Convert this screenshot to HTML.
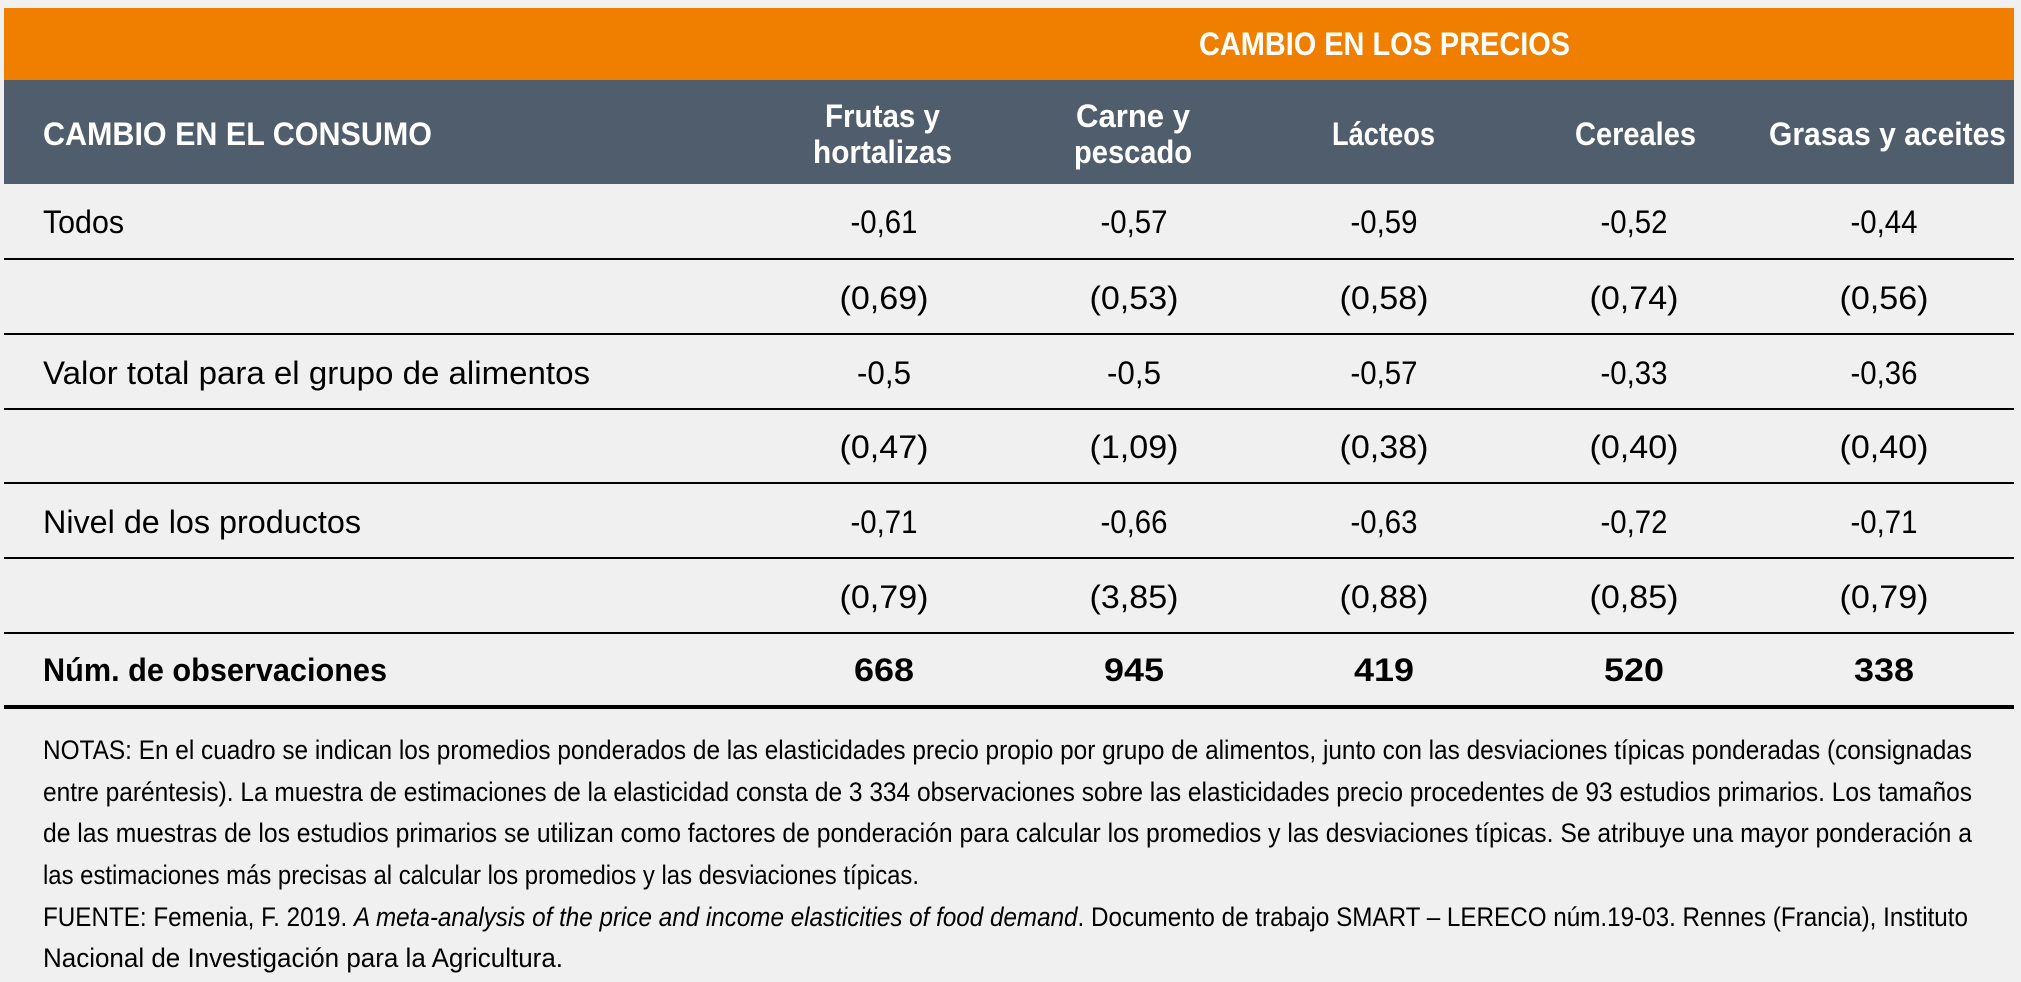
<!DOCTYPE html>
<html><head><meta charset="utf-8"><style>
html,body{margin:0;padding:0;background:#f0f0f0;}
svg{display:block;}
text{font-family:"Liberation Sans",sans-serif;dominant-baseline:central;}
</style></head><body>
<svg width="2021" height="982" viewBox="0 0 2021 982" xmlns="http://www.w3.org/2000/svg">
<rect x="0" y="0" width="2021" height="982" fill="#f0f0f0"/>
<rect x="4" y="8" width="2010" height="72" fill="#f07f00"/>
<rect x="4" y="80" width="2010" height="104" fill="#505d6c"/>
<g fill="#fff" font-weight="bold" font-size="32" lengthAdjust="spacingAndGlyphs">
<text x="1199" y="44" textLength="371" lengthAdjust="spacingAndGlyphs">CAMBIO EN LOS PRECIOS</text>
<text x="43" y="134" textLength="389" lengthAdjust="spacingAndGlyphs">CAMBIO EN EL CONSUMO</text>
<text x="825" y="116" textLength="115" lengthAdjust="spacingAndGlyphs">Frutas y</text>
<text x="813" y="152" textLength="139" lengthAdjust="spacingAndGlyphs">hortalizas</text>
<text x="1076" y="116" textLength="114" lengthAdjust="spacingAndGlyphs">Carne y</text>
<text x="1074" y="152" textLength="118" lengthAdjust="spacingAndGlyphs">pescado</text>
<text x="1332" y="134" textLength="103" lengthAdjust="spacingAndGlyphs">Lácteos</text>
<text x="1575" y="134" textLength="121" lengthAdjust="spacingAndGlyphs">Cereales</text>
<text x="1769" y="134" textLength="237" lengthAdjust="spacingAndGlyphs">Grasas y aceites</text>
</g>
<g stroke="#000">
<line x1="4" y1="259" x2="2014" y2="259" stroke-width="2"/>
<line x1="4" y1="334" x2="2014" y2="334" stroke-width="2"/>
<line x1="4" y1="409" x2="2014" y2="409" stroke-width="2"/>
<line x1="4" y1="483" x2="2014" y2="483" stroke-width="2"/>
<line x1="4" y1="558" x2="2014" y2="558" stroke-width="2"/>
<line x1="4" y1="633" x2="2014" y2="633" stroke-width="2"/>
<line x1="4" y1="707" x2="2014" y2="707" stroke-width="4"/>
</g>
<g fill="#000" font-size="32">
<text x="43" y="222" textLength="81" lengthAdjust="spacingAndGlyphs">Todos</text>
<text x="43" y="373" textLength="547" lengthAdjust="spacingAndGlyphs">Valor total para el grupo de alimentos</text>
<text x="43" y="522" textLength="318" lengthAdjust="spacingAndGlyphs">Nivel de los productos</text>
</g>
<g fill="#000" font-size="32" text-anchor="middle">
<text x="884" y="222" textLength="67" lengthAdjust="spacingAndGlyphs">-0,61</text>
<text x="1134" y="222" textLength="67" lengthAdjust="spacingAndGlyphs">-0,57</text>
<text x="1384" y="222" textLength="67" lengthAdjust="spacingAndGlyphs">-0,59</text>
<text x="1634" y="222" textLength="67" lengthAdjust="spacingAndGlyphs">-0,52</text>
<text x="1884" y="222" textLength="67" lengthAdjust="spacingAndGlyphs">-0,44</text>
<text x="884" y="298" textLength="89" lengthAdjust="spacingAndGlyphs">(0,69)</text>
<text x="1134" y="298" textLength="89" lengthAdjust="spacingAndGlyphs">(0,53)</text>
<text x="1384" y="298" textLength="89" lengthAdjust="spacingAndGlyphs">(0,58)</text>
<text x="1634" y="298" textLength="89" lengthAdjust="spacingAndGlyphs">(0,74)</text>
<text x="1884" y="298" textLength="89" lengthAdjust="spacingAndGlyphs">(0,56)</text>
<text x="884" y="373" textLength="54" lengthAdjust="spacingAndGlyphs">-0,5</text>
<text x="1134" y="373" textLength="54" lengthAdjust="spacingAndGlyphs">-0,5</text>
<text x="1384" y="373" textLength="67" lengthAdjust="spacingAndGlyphs">-0,57</text>
<text x="1634" y="373" textLength="67" lengthAdjust="spacingAndGlyphs">-0,33</text>
<text x="1884" y="373" textLength="67" lengthAdjust="spacingAndGlyphs">-0,36</text>
<text x="884" y="447" textLength="89" lengthAdjust="spacingAndGlyphs">(0,47)</text>
<text x="1134" y="447" textLength="89" lengthAdjust="spacingAndGlyphs">(1,09)</text>
<text x="1384" y="447" textLength="89" lengthAdjust="spacingAndGlyphs">(0,38)</text>
<text x="1634" y="447" textLength="89" lengthAdjust="spacingAndGlyphs">(0,40)</text>
<text x="1884" y="447" textLength="89" lengthAdjust="spacingAndGlyphs">(0,40)</text>
<text x="884" y="522" textLength="67" lengthAdjust="spacingAndGlyphs">-0,71</text>
<text x="1134" y="522" textLength="67" lengthAdjust="spacingAndGlyphs">-0,66</text>
<text x="1384" y="522" textLength="67" lengthAdjust="spacingAndGlyphs">-0,63</text>
<text x="1634" y="522" textLength="67" lengthAdjust="spacingAndGlyphs">-0,72</text>
<text x="1884" y="522" textLength="67" lengthAdjust="spacingAndGlyphs">-0,71</text>
<text x="884" y="597" textLength="89" lengthAdjust="spacingAndGlyphs">(0,79)</text>
<text x="1134" y="597" textLength="89" lengthAdjust="spacingAndGlyphs">(3,85)</text>
<text x="1384" y="597" textLength="89" lengthAdjust="spacingAndGlyphs">(0,88)</text>
<text x="1634" y="597" textLength="89" lengthAdjust="spacingAndGlyphs">(0,85)</text>
<text x="1884" y="597" textLength="89" lengthAdjust="spacingAndGlyphs">(0,79)</text>
</g>
<g fill="#000" font-size="32" font-weight="bold">
<text x="43" y="670" textLength="344" lengthAdjust="spacingAndGlyphs">Núm. de observaciones</text>
<g text-anchor="middle">
<text x="884" y="670" textLength="60" lengthAdjust="spacingAndGlyphs">668</text>
<text x="1134" y="670" textLength="60" lengthAdjust="spacingAndGlyphs">945</text>
<text x="1384" y="670" textLength="60" lengthAdjust="spacingAndGlyphs">419</text>
<text x="1634" y="670" textLength="60" lengthAdjust="spacingAndGlyphs">520</text>
<text x="1884" y="670" textLength="60" lengthAdjust="spacingAndGlyphs">338</text>
</g>
</g>
<g fill="#000" font-size="27">
<text x="43" y="750" textLength="1929" lengthAdjust="spacingAndGlyphs">NOTAS: En el cuadro se indican los promedios ponderados de las elasticidades precio propio por grupo de alimentos, junto con las desviaciones típicas ponderadas (consignadas</text>
<text x="43" y="792" textLength="1929" lengthAdjust="spacingAndGlyphs">entre paréntesis). La muestra de estimaciones de la elasticidad consta de 3 334 observaciones sobre las elasticidades precio procedentes de 93 estudios primarios. Los tamaños</text>
<text x="43" y="833" textLength="1929" lengthAdjust="spacingAndGlyphs">de las muestras de los estudios primarios se utilizan como factores de ponderación para calcular los promedios y las desviaciones típicas. Se atribuye una mayor ponderación a</text>
<text x="43" y="875" textLength="876" lengthAdjust="spacingAndGlyphs">las estimaciones más precisas al calcular los promedios y las desviaciones típicas.</text>
<text x="43" y="917" textLength="1925" lengthAdjust="spacingAndGlyphs">FUENTE: Femenia, F. 2019. <tspan font-style="italic">A meta-analysis of the price and income elasticities of food demand</tspan>. Documento de trabajo SMART – LERECO núm.19-03. Rennes (Francia), Instituto</text>
<text x="43" y="958" textLength="520" lengthAdjust="spacingAndGlyphs">Nacional de Investigación para la Agricultura.</text>
</g>
</svg>
</body></html>
